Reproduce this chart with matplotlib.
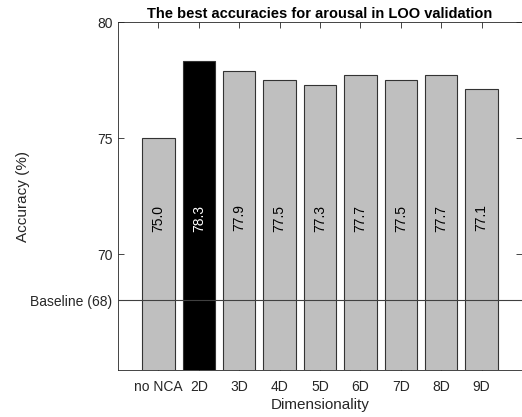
import numpy as np
import matplotlib.pyplot as plt

plt.rcParams['font.family'] = ['Liberation Sans', 'DejaVu Sans']

# accuracies per dimensionality setting
categories = ['no NCA', '2D', '3D', '4D', '5D', '6D', '7D', '8D', '9D']
accuracy = [75.0, 78.3, 77.9, 77.5, 77.3, 77.7, 77.5, 77.7, 77.1]
baseline = 68
best_idx = 1

fig = plt.figure(figsize=(5.22, 4.17), dpi=100)
ax = fig.add_axes([118 / 522, 47 / 417, 404 / 522, 348 / 417])

x = np.arange(1, len(categories) + 1)
colors = ['black' if i == best_idx else '#bfbfbf' for i in range(len(categories))]
ax.bar(x, accuracy, width=0.8, color=colors, edgecolor='#333333', linewidth=0.8, zorder=2)

ax.axhline(baseline, color='#404040', linewidth=0.8, zorder=3)

for i, (xi, v) in enumerate(zip(x, accuracy)):
    ax.text(xi, 71.55, f'{v:.1f}', rotation=90, ha='center', va='center',
            fontsize=10, color='white' if i == best_idx else 'black', zorder=4)

ax.set_xlim(0, 10)
ax.set_ylim(65, 80)
ax.set_xticks(x)
ax.set_xticklabels(categories)
ax.set_yticks([baseline, 70, 75, 80])
ax.set_yticklabels([f'Baseline ({baseline})', '70', '75', '80'])
ax.tick_params(direction='in', top=True, right=True, length=4, width=0.6,
               labelsize=10, colors='#262626', pad=4)
ax.tick_params(axis='x', pad=7)
for s in ax.spines.values():
    s.set_linewidth(0.6)
    s.set_color('#262626')

ax.set_title('The best accuracies for arousal in LOO validation',
             fontsize=10.5, fontweight='bold', pad=3)
ax.set_xlabel('Dimensionality', fontsize=11, color='#262626', labelpad=3)
ax.set_ylabel('Accuracy (%)', fontsize=11, color='#262626', labelpad=0)

fig.savefig('out.png', dpi=100)
